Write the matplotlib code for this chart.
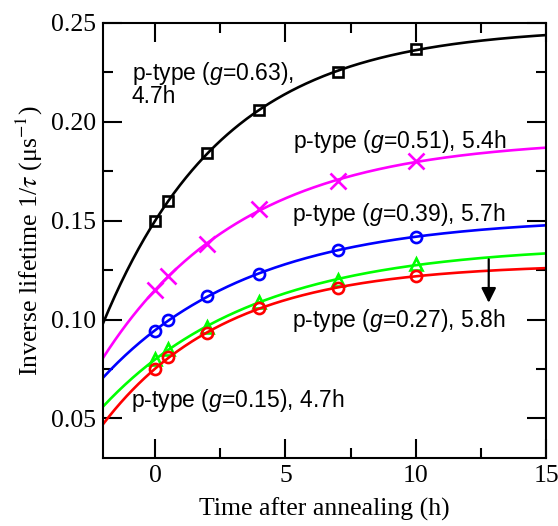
import numpy as np
import matplotlib.pyplot as plt

plt.rcParams['mathtext.fontset'] = 'custom'
plt.rcParams['mathtext.rm'] = 'Liberation Sans'
plt.rcParams['mathtext.it'] = 'Liberation Sans:italic'

# annealing times (h) and inverse lifetimes (1/us)
t_h = [0, 0.5, 2, 4, 7, 10]
g063 = [0.150, 0.160, 0.184, 0.206, 0.225, 0.237]
g051 = [0.115, 0.122, 0.138, 0.156, 0.170, 0.180]
g039 = [0.094, 0.100, 0.112, 0.123, 0.135, 0.142]
g027 = [0.080, 0.085, 0.096, 0.109, 0.120, 0.128]
g015 = [0.075, 0.081, 0.093, 0.106, 0.116, 0.122]
tau_h = [4.7, 5.4, 5.7, 5.8, 4.7]
g_vals = ["0.63", "0.51", "0.39", "0.27", "0.15"]

series = [g063, g051, g039, g027, g015]
colors = ["black", "#ff00ff", "#0000ff", "#00ff00", "#ff0000"]
markers = ["s", "x", "o", "^", "o"]
msizes = [7, 11, 8, 9, 8]

fig = plt.figure(figsize=(5.58, 5.26), dpi=100)
ax = fig.add_axes([0.1846, 0.1293, 0.794, 0.827])

t = np.array(t_h)
tt = np.linspace(-2, 15, 300)
for y, tau, c, m, ms in zip(series, tau_h, colors, markers, msizes):
    # fit y = A - B*exp(-t/tau) with the quoted time constant
    M = np.column_stack([np.ones_like(t), -np.exp(-t / tau)])
    (A, B), *_ = np.linalg.lstsq(M, np.array(y), rcond=None)
    ax.plot(tt, A - B * np.exp(-tt / tau), color=c, lw=1.9)
    ax.plot(t, y, ls="none", marker=m, ms=ms, mfc="none", mec=c, mew=1.9)

tfont = dict(family="Liberation Sans", fontsize=16.5, math_fontfamily="custom")
ax.text(-0.9, 0.2212, "p-type ($g$=%s)," % g_vals[0], **tfont)
ax.text(-0.9, 0.2097, "%.1fh" % tau_h[0], **tfont)
ax.text(5.3, 0.187, "p-type ($g$=%s), %.1fh" % (g_vals[1], tau_h[1]), **tfont)
ax.text(5.27, 0.150, "p-type ($g$=%s), %.1fh" % (g_vals[2], tau_h[2]), **tfont)
ax.text(5.27, 0.0961, "p-type ($g$=%s), %.1fh" % (g_vals[3], tau_h[3]), **tfont)
ax.text(-0.93, 0.0557, "p-type ($g$=%s), %.1fh" % (g_vals[4], tau_h[4]), **tfont)

ax.annotate("", xy=(12.8, 0.1085), xytext=(12.8, 0.1305),
            arrowprops=dict(arrowstyle="-|>", color="black", lw=1.6,
                            mutation_scale=22, shrinkA=0, shrinkB=0))

ax.set_xlim(-2, 15)
ax.set_ylim(0.03, 0.25)
ax.set_xticks([0, 5, 10, 15])
ax.set_xticks([2.5, 7.5, 12.5], minor=True)
ax.set_yticks([0.05, 0.10, 0.15, 0.20, 0.25])
ax.set_yticks([0.075, 0.125, 0.175, 0.225], minor=True)
ax.set_yticklabels(["0.05", "0.10", "0.15", "0.20", "0.25"])
ax.tick_params(which="both", direction="in", top=True, right=True, width=1.5)
ax.tick_params(which="major", length=14, labelsize=18.5, pad=5)
ax.tick_params(which="minor", length=7)
for lab in ax.get_xticklabels() + ax.get_yticklabels():
    lab.set_fontfamily("Liberation Serif")
for s in ax.spines.values():
    s.set_linewidth(1.5)

lfont = dict(family="Liberation Serif", fontsize=18.5, math_fontfamily="stix")
ax.set_xlabel("Time after annealing (h)", labelpad=8, **lfont)
ax.set_ylabel("Inverse lifetime 1/$\\tau$ (\u03bcs$^{-1}$)", labelpad=4, **lfont)

fig.savefig("out.png", dpi=100)
